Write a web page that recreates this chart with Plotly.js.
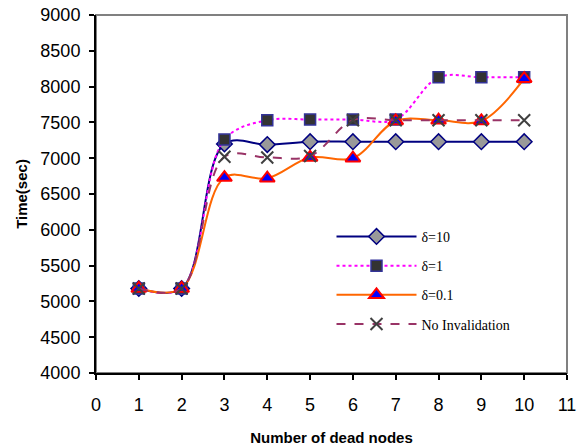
<!DOCTYPE html>
<html><head><meta charset="utf-8">
<script src="https://cdn.plot.ly/plotly-3.0.1.min.js"></script>
<style>body{margin:0;background:#fff}#chart{width:577px;height:447px}</style>
</head><body><div id="chart"></div>
<script>
const deadNodes = [1, 2, 3, 4, 5, 6, 7, 8, 9, 10];
const delta10 = [5180, 5180, 7200, 7190, 7230, 7230, 7230, 7230, 7230, 7230];
const delta1 = [5180, 5180, 7260, 7530, 7540, 7540, 7540, 8130, 8130, 8130];
const delta01 = [5180, 5180, 6730, 6720, 7010, 7000, 7520, 7530, 7520, 8110];
const noInval = [5180, 5180, 7020, 7010, 7030, 7530, 7530, 7530, 7530, 7530];
const names = ['δ=10', 'δ=1', 'δ=0.1', 'No Invalidation'];

const traces = [
  {x: deadNodes, y: delta10, name: names[0], legendgroup: 'a', mode: 'lines+markers',
   line: {color: '#000080', width: 2, shape: 'spline', smoothing: 1},
   marker: {symbol: 'diamond', size: 12, color: '#999999', line: {color: '#000080', width: 1.5}}},
  {x: deadNodes, y: delta1, name: names[1], legendgroup: 'b', mode: 'lines+markers',
   line: {color: '#FF00FF', width: 2, dash: 'dot', shape: 'spline', smoothing: 1},
   marker: {symbol: 'square', size: 11, color: '#333333', line: {color: '#333399', width: 1.5}}},
  {x: deadNodes, y: delta01, name: names[2], legendgroup: 'c', mode: 'lines+markers',
   line: {color: '#FF6600', width: 2, shape: 'spline', smoothing: 1},
   marker: {symbol: 'triangle-up', size: 13, color: '#0000FF', line: {color: '#FF0000', width: 2}}},
  {x: deadNodes, y: noInval, name: names[3], legendgroup: 'd', mode: 'lines+markers',
   line: {color: '#993366', width: 2, dash: 'dash', shape: 'spline', smoothing: 1},
   marker: {symbol: 'x-thin-open', size: 12, color: '#404040', line: {color: '#404040', width: 2}}}
];

const layout = {
  width: 577, height: 447,
  margin: {l: 96, r: 10, t: 15, b: 74},
  paper_bgcolor: '#fff', plot_bgcolor: '#fff',
  font: {family: 'Liberation Sans, Arial, sans-serif', color: '#000'},
  xaxis: {range: [0, 11], tickvals: [0,1,2,3,4,5,6,7,8,9,10,11], showgrid: false, zeroline: false,
    showline: true, linecolor: '#000', linewidth: 2, ticks: 'outside', ticklen: 5, tickwidth: 2, tickcolor: '#000',
    ticklabelstandoff: 9,
    tickfont: {size: 18}, title: {text: '<b>Number of dead nodes</b>', font: {size: 15}, standoff: 19}},
  yaxis: {range: [4000, 9000], dtick: 500, showgrid: false, zeroline: false,
    showline: true, linecolor: '#000', linewidth: 2, ticks: 'outside', ticklen: 5, tickwidth: 2, tickcolor: '#000',
    ticklabelstandoff: 5,
    tickfont: {size: 18}, title: {text: '<b>Time(sec)</b>', font: {size: 15}, standoff: 9}},
  shapes: [{type: 'rect', xref: 'paper', yref: 'paper', x0: 0, x1: 1, y0: 0, y1: 1,
    line: {color: '#808080', width: 2}, layer: 'below'}],
  showlegend: true,
  legend: {x: 0.5, xanchor: 'left', y: 0.425, yanchor: 'top', bgcolor: 'rgba(0,0,0,0)',
    font: {family: 'Liberation Serif, Times New Roman, serif', size: 14},
    traceorder: 'grouped', tracegroupgap: 8, itemwidth: 80}
};
Plotly.newPlot('chart', traces, layout, {displayModeBar: false});
</script></body></html>
